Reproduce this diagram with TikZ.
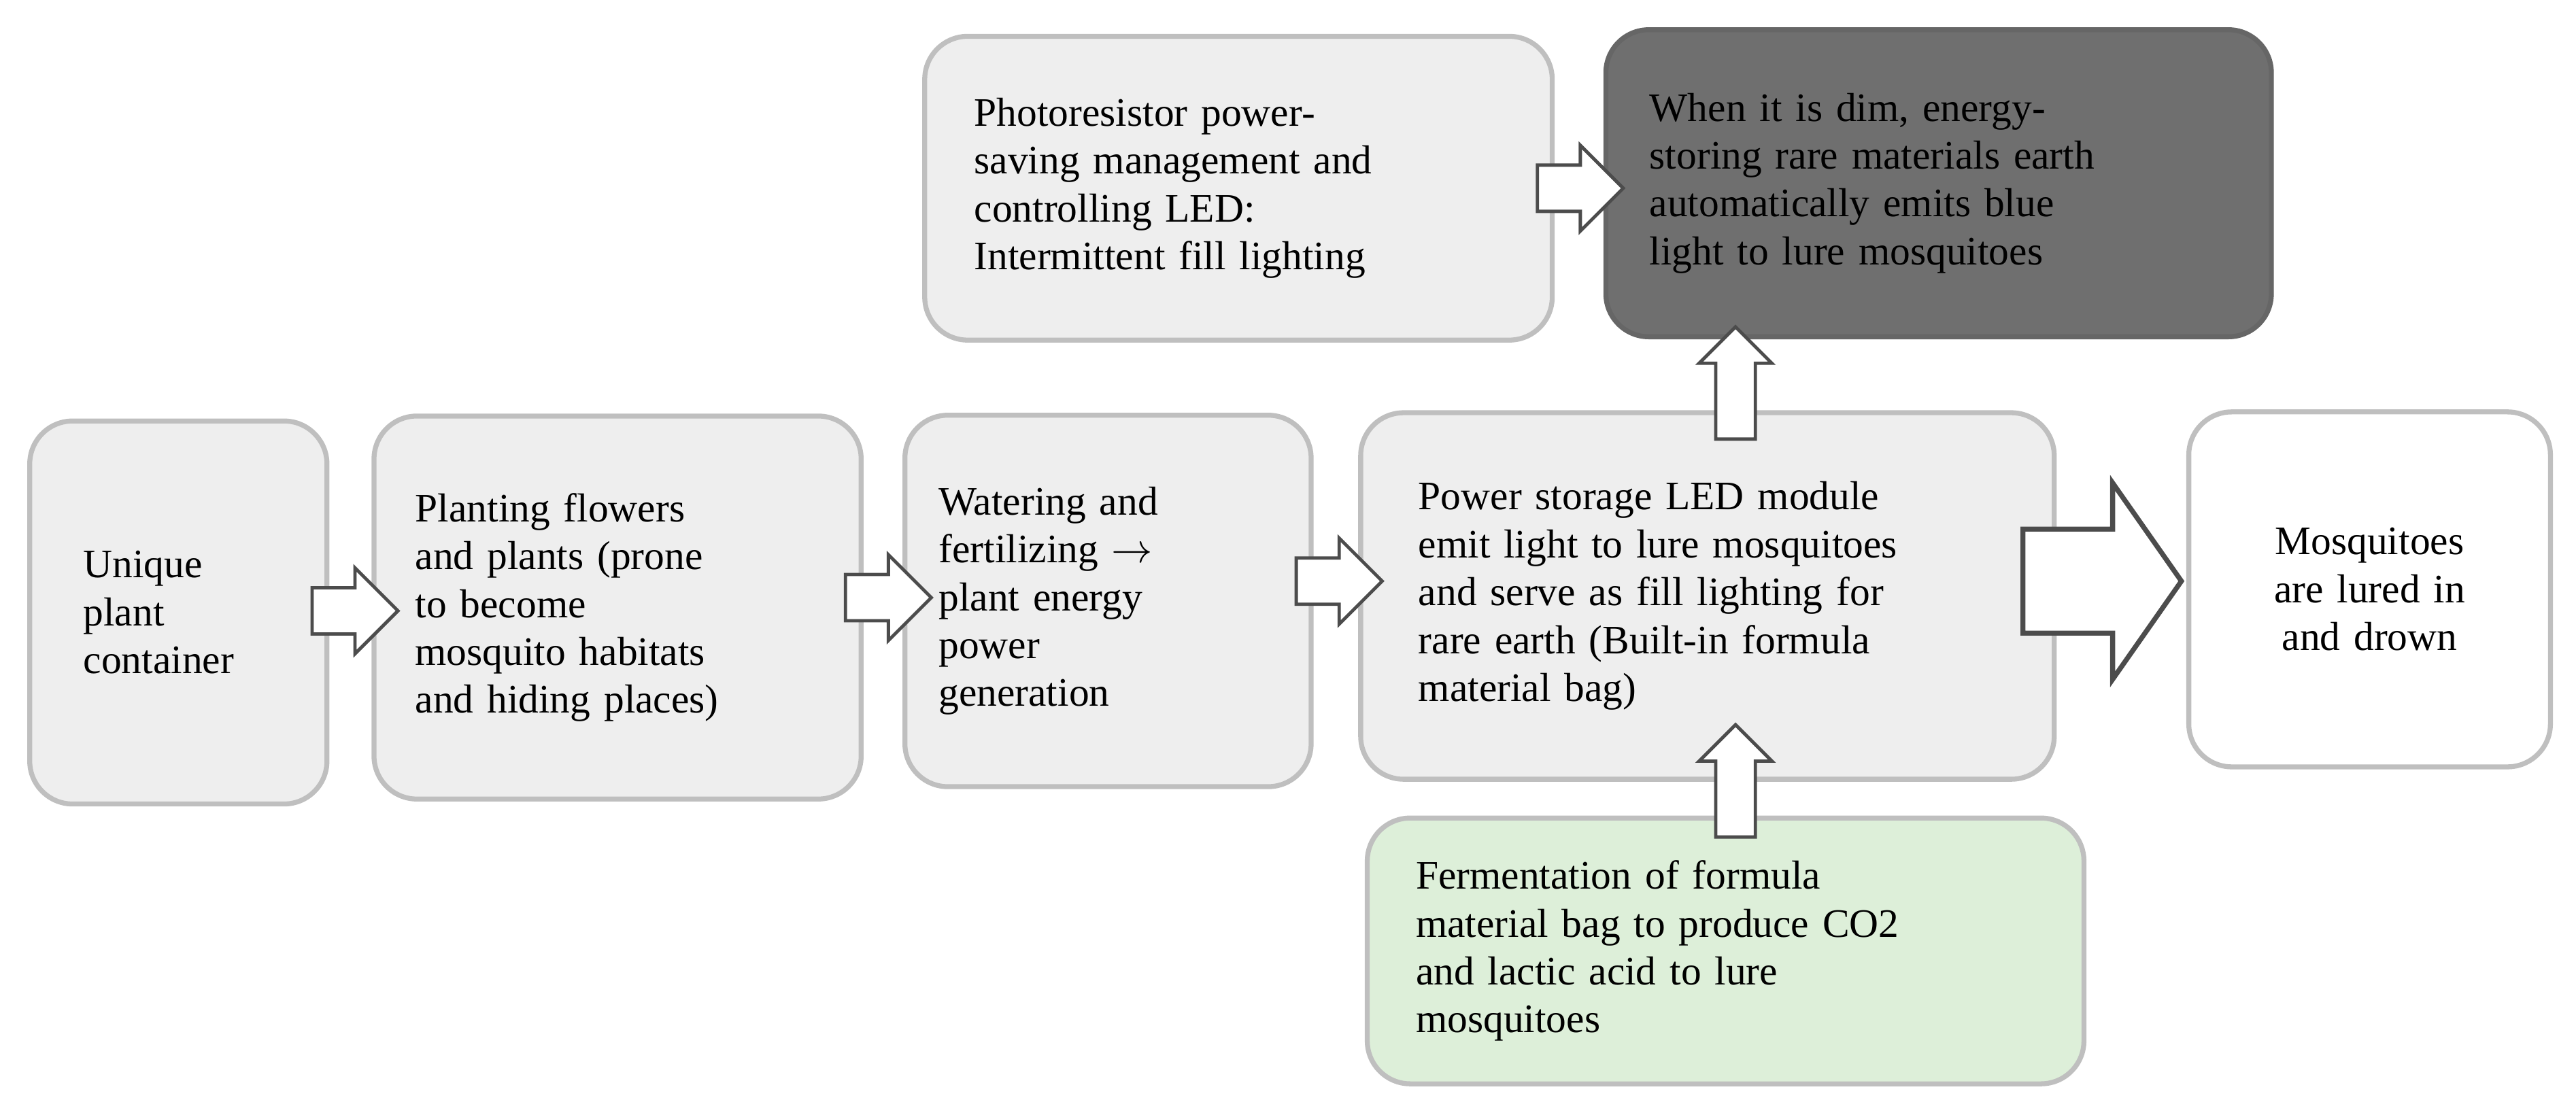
\documentclass[tikz,border=0pt]{standalone}
\usepackage{fontspec}
\setmainfont{Liberation Serif}
\usetikzlibrary{shapes.arrows}
\definecolor{bx}{HTML}{EEEEEE}
\definecolor{bd}{HTML}{BFBFBF}
\definecolor{dk}{HTML}{6F6F6F}
\definecolor{gr}{HTML}{DDEFD9}
\begin{document}
\begin{tikzpicture}[x=1pt,y=-1pt,
 box/.style={draw=bd,line width=3pt,fill=bx,rounded corners=26pt,inner sep=0pt,align=left,font=\fontsize{24.5}{29}\selectfont},
 arr/.style={single arrow,draw=black!70,fill=white,line width=2pt,inner sep=0pt,single arrow head indent=0pt}]
\useasboundingbox (0,0) rectangle (1560,665);
\node[box,minimum width=180,minimum height=232,text width=115] (a) at (108,371) {Unique\\plant\\container};
\node[box,minimum width=295,minimum height=232,text width=245] (b) at (374,368) {Planting flowers\\and plants (prone\\to become\\mosquito habitats\\and hiding places)};
\node[box,minimum width=246,minimum height=225,text width=205] (c) at (671,364) {Watering and\\fertilizing $\rightarrow$\\plant energy\\power\\generation};
\node[box,minimum width=420,minimum height=222,text width=350] (d) at (1034,361) {Power storage LED module\\emit light to lure mosquitoes\\and serve as fill lighting for\\rare earth (Built-in formula\\material bag)};
\node[box,fill=white,minimum width=219,minimum height=215,align=center,text width=180] (e) at (1435,357) {Mosquitoes\\are lured in\\and drown};
\node[box,minimum width=380,minimum height=184,text width=320] (f) at (750,114) {Photoresistor power-\\saving management and\\controlling LED:\\Intermittent fill lighting};
\node[box,draw=black!60,fill=dk,minimum width=403,minimum height=186,text width=350] (g) at (1174,111) {When it is dim, energy-\\storing rare materials earth\\automatically emits blue\\light to lure mosquitoes};
\node[box,fill=gr,minimum width=434,minimum height=161,text width=375] (h) at (1045,576) {Fermentation of formula\\material bag to produce CO2\\and lactic acid to lure\\mosquitoes};
\node[arr,minimum height=52,single arrow head extend=12] (ab) at (208,370) {\rule{0pt}{26pt}};
\node[arr,minimum height=52,single arrow head extend=12] (bc) at (531,362) {\rule{0pt}{26pt}};
\node[arr,minimum height=52,single arrow head extend=12] (cd) at (804,352) {\rule{0pt}{26pt}};
\node[arr,minimum height=96,single arrow head extend=28,single arrow tip angle=110,line width=3pt] (de) at (1262,352) {\rule{0pt}{60pt}};
\node[arr,minimum height=52,single arrow head extend=12] (fg) at (950,114) {\rule{0pt}{26pt}};
\node[arr,rotate=90,minimum height=68,single arrow head extend=10] (dg) at (1051,238) {\rule{0pt}{22pt}};
\node[arr,rotate=90,minimum height=68,single arrow head extend=10] (hd) at (1051,479) {\rule{0pt}{22pt}};
\end{tikzpicture}
\end{document}
